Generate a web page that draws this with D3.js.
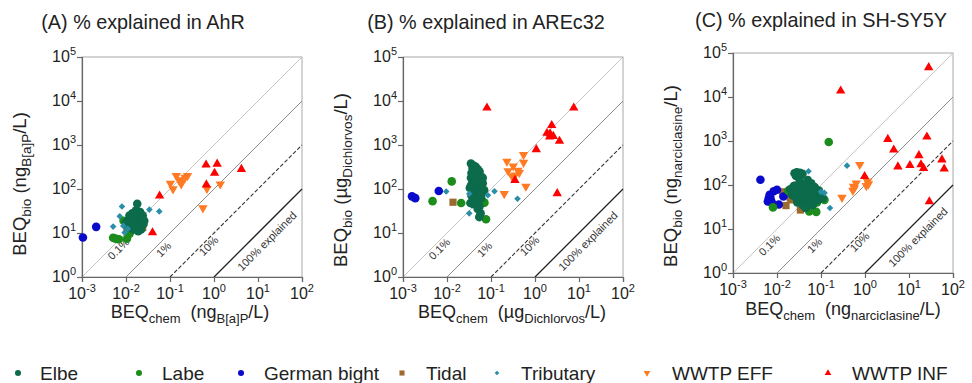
<!DOCTYPE html>
<html>
<head>
<meta charset="utf-8">
<script src="https://cdn.jsdelivr.net/npm/d3@7"></script>
<style>
  body { margin: 0; background: #fff; }
  text { font-family: "Liberation Sans", Arial, sans-serif; fill: #222; white-space: pre; }
</style>
</head>
<body>
<svg id="chart" width="972" height="383"></svg>
<script>
// ---- data ----
const groups = ['Elbe', 'Labe', 'German bight', 'Tidal', 'Tributary', 'WWTP EFF', 'WWTP INF'];
const xTicks = [1e-3, 1e-2, 1e-1, 1e0, 1e1, 1e2];
const yTicks = [1e0, 1e1, 1e2, 1e3, 1e4, 1e5];
const xTickExp = ['-3', '-2', '-1', '0', '1', '2'];
const yTickExp = ['0', '1', '2', '3', '4', '5'];
const percentExplained = [0.1, 1, 10, 100];
const percentLabels = ['0.1%', '1%', '10%', '100% explained'];

const panelTitles = ['(A) % explained in AhR', '(B) % explained in AREc32', '(C) % explained in SH-SY5Y'];
const unitPrefix = ['ng', '\u00b5g', 'ng'];
const unitRef = ['B[a]P', 'Dichlorvos', 'narciclasine'];

// (A) AhR  [BEQchem, BEQbio]
const ahrElbe = [[0.012,16],[0.013,20],[0.014,24],[0.015,18],[0.016,22],[0.017,15],[0.018,26],[0.019,19],[0.02,14],[0.021,23],[0.022,17],[0.013,13],[0.014,28],[0.016,30],[0.018,12],[0.011,19],[0.012,25],[0.015,12],[0.017,33],[0.02,28],[0.023,21],[0.025,16],[0.024,25],[0.011,14],[0.019,11],[0.016,15],[0.014,17],[0.018,46],[0.026,19],[0.021,30],[0.013,22],[0.015,27],[0.01,17],[0.022,12]];
const ahrLabe = [[0.0051,7.8],[0.0056,7.5],[0.0062,7.3],[0.0069,7.2],[0.0088,19],[0.0105,7.4],[0.012,9.5],[0.0126,11]];
const ahrGermanBight = [[0.00105,7.9],[0.0021,13.8]];
const ahrTidal = [[0.0105,12.2],[0.024,13.3]];
const ahrTributary = [[0.0081,40],[0.0072,24],[0.0051,14],[0.0087,14.5],[0.034,34],[0.057,31],[0.0093,10.2],[0.011,12.5]];
const ahrEff = [[0.139,200],[0.22,182],[0.25,200],[0.102,134],[0.117,100],[0.18,129],[0.165,154],[0.19,160],[0.56,37],[0.69,102],[1.39,129]];
const ahrInf = [[0.058,70],[0.04,10.2],[0.66,355],[1.18,370],[1.03,230],[4.2,282],[0.67,125]];

// (B) AREc32
const arElbe = [[0.035,380],[0.04,340],[0.038,300],[0.045,320],[0.042,260],[0.05,280],[0.036,230],[0.048,240],[0.055,250],[0.06,190],[0.065,180],[0.04,200],[0.035,180],[0.045,170],[0.05,160],[0.038,150],[0.042,140],[0.055,145],[0.047,130],[0.035,120],[0.04,115],[0.05,110],[0.058,120],[0.045,100],[0.038,95],[0.052,90],[0.042,85],[0.048,75],[0.036,70],[0.055,70],[0.04,60],[0.05,55],[0.045,50],[0.06,62],[0.034,48],[0.04,45],[0.055,40],[0.05,35],[0.058,28],[0.054,23],[0.033,105],[0.065,135],[0.07,95],[0.062,80]];
const arLabe = [[0.0128,149],[0.0047,53],[0.021,48],[0.071,49],[0.077,20.5]];
const arGermanBight = [[0.0016,68],[0.0019,62],[0.0065,90]];
const arTidal = [[0.0137,50]];
const arTributary = [[0.0096,88],[0.032,28],[0.085,72],[0.12,89],[0.40,60],[0.032,78]];
const arEff = [[0.23,425],[0.32,330],[0.55,600],[0.55,400],[0.245,257],[0.30,195],[0.35,205],[0.41,265],[0.44,235],[0.2,78],[0.62,115]];
const arInf = [[0.081,7000],[7.6,7000],[2.4,2800],[1.87,1870],[2.2,1800],[2.15,1530],[2.6,1580],[3.6,1230],[1.07,790],[0.35,158],[3.2,79]];

// (C) SH-SY5Y
const shElbe = [[0.025,185],[0.028,195],[0.03,175],[0.033,190],[0.027,160],[0.035,165],[0.031,150],[0.038,180],[0.02,80],[0.022,60],[0.024,95],[0.026,70],[0.028,50],[0.03,85],[0.032,65],[0.034,110],[0.035,45],[0.037,75],[0.04,55],[0.042,90],[0.044,40],[0.046,65],[0.048,80],[0.05,50],[0.052,100],[0.055,70],[0.058,38],[0.06,60],[0.063,85],[0.066,48],[0.07,72],[0.075,55],[0.08,65],[0.085,45],[0.09,75],[0.1,58],[0.11,50],[0.038,35],[0.045,30],[0.033,120],[0.05,130],[0.06,110],[0.029,40],[0.04,100],[0.055,88],[0.065,35],[0.072,90],[0.025,55],[0.036,60],[0.043,75],[0.047,52]];
const shLabe = [[0.15,950],[0.0081,31],[0.078,24.5],[0.054,25.2],[0.081,40],[0.12,46],[0.018,74]];
const shGermanBight = [[0.0042,132],[0.0065,50],[0.0068,60],[0.0073,45],[0.0084,72],[0.01,78],[0.0077,39],[0.011,36],[0.014,55],[0.007,55],[0.0062,42]];
const shTidal = [[0.014,66],[0.016,34],[0.034,27],[0.032,93],[0.022,46],[0.0135,70],[0.02,50],[0.028,100]];
const shTributary = [[0.052,205],[0.16,30],[0.12,66],[0.39,275],[0.1,70]];
const shEff = [[0.76,290],[0.30,52],[0.55,93],[0.63,110],[0.53,75],[0.57,85],[1.07,96],[1.14,120],[1.2,105]];
const shInf = [[28,47000],[0.28,13800],[3.3,1100],[4.5,630],[5.6,260],[10.5,280],[16.8,470],[18.7,290],[21.5,240],[25.5,1240],[56,375],[63,232],[29,42],[0.98,157]];

// ---- styling ----
const groupColors = ['#0b6b4b', '#1c8c1c', '#0a0acc', '#9c6a2e', '#2a8fa6', '#ff7a22', '#ff0000'];
const groupShapes = ['circle', 'circle', 'circle', 'square', 'diamond', 'down', 'up'];
const drawOrder = [3, 2, 1, 0, 4, 5, 6];

const panelData = [
  [ahrElbe, ahrLabe, ahrGermanBight, ahrTidal, ahrTributary, ahrEff, ahrInf],
  [arElbe, arLabe, arGermanBight, arTidal, arTributary, arEff, arInf],
  [shElbe, shLabe, shGermanBight, shTidal, shTributary, shEff, shInf]
];

const panels = [
  { left: 82, top: 57, size: 220, titleX: 143, titleY: 29, yLabX: 26, yLabY: 184, xLabX: 190, xLabY: 318 },
  { left: 403, top: 57, size: 220, titleX: 486, titleY: 29, yLabX: 347, yLabY: 180, xLabX: 512, xLabY: 318 },
  { left: 733, top: 53, size: 220, titleX: 821, titleY: 27, yLabX: 677, yLabY: 176, xLabX: 843, xLabY: 315 }
];

// where along each line the label sits (BEQchem) and its perpendicular offset (px)
const labelAt = [0.0054, 0.055, 0.62, 10.2];
const labelOffset = [4.2, 5, 3.8, 8.5];
const lineStyles = [
  { stroke: '#c4c4c4', width: 1, dash: null },
  { stroke: '#8c8c8c', width: 1, dash: null },
  { stroke: '#333', width: 1.1, dash: '4,2' },
  { stroke: '#222', width: 1.3, dash: null }
];

const svg = d3.select('#chart');

function symbolPath(shape, scale) {
  const k = scale || 1;
  if (shape === 'circle') return d3.symbol(d3.symbolCircle, 58 * k)();
  if (shape === 'square') return d3.symbol(d3.symbolSquare, 52 * k)();
  if (shape === 'diamond') return d3.symbol(d3.symbolSquare, 22 * k)();
  return d3.symbol(d3.symbolTriangle, 38 * k)();
}
function symbolRotate(shape) {
  if (shape === 'diamond') return 45;
  if (shape === 'down') return 180;
  return 0;
}

function addSubLabel(g, parts, mainSize, subSize) {
  parts.forEach(function(p, i) {
    const prevSub = i > 0 && parts[i - 1].sub;
    let dy = 0;
    if (p.sub) dy = subSize * 0.4;
    else if (prevSub) dy = -subSize * 0.4;
    g.append('tspan')
      .attr('dy', dy)
      .style('font-size', (p.sub ? subSize : mainSize) + 'px')
      .text(p.t);
  });
}

panels.forEach(function(p, pi) {
  const x = d3.scaleLog().domain([1e-3, 1e2]).range([p.left, p.left + p.size]);
  const y = d3.scaleLog().domain([1e0, 1e5]).range([p.top + p.size, p.top]);
  const g = svg.append('g');

  // frame (top/right)
  g.append('rect')
    .attr('x', p.left).attr('y', p.top)
    .attr('width', p.size).attr('height', p.size)
    .attr('fill', 'none').attr('stroke', '#a8a8a8').attr('stroke-width', 1);

  // percent-explained lines
  percentExplained.forEach(function(pct, li) {
    const factor = 100 / pct;
    const x0 = 1 / factor;
    const st = lineStyles[li];
    g.append('line')
      .attr('x1', x(x0)).attr('y1', y(1))
      .attr('x2', x(1e2)).attr('y2', y(1e2 * factor))
      .attr('stroke', st.stroke)
      .attr('stroke-width', st.width)
      .attr('stroke-dasharray', st.dash);
    const lx = x(labelAt[li]) + labelOffset[li];
    const ly = y(labelAt[li] * factor) + labelOffset[li];
    g.append('text')
      .attr('transform', 'translate(' + lx + ',' + ly + ') rotate(-45)')
      .attr('text-anchor', 'middle')
      .attr('dy', '0.35em')
      .style('font-size', '11px')
      .style('fill', '#333')
      .text(percentLabels[li]);
  });

  // axes
  const xAxis = g.append('g')
    .attr('transform', 'translate(0,' + (p.top + p.size) + ')')
    .call(d3.axisBottom(x).tickValues(xTicks).tickSize(5).tickFormat(''));
  const yAxis = g.append('g')
    .attr('transform', 'translate(' + p.left + ',0)')
    .call(d3.axisLeft(y).tickValues(yTicks).tickSize(5).tickFormat(''));
  [xAxis, yAxis].forEach(function(a) {
    a.selectAll('.domain').attr('stroke', '#666').attr('stroke-width', 1.2);
    a.selectAll('.tick line').attr('stroke', '#666').attr('stroke-width', 1.2);
  });

  // tick labels with exponents
  xTicks.forEach(function(v, i) {
    const t = g.append('text')
      .attr('x', x(v)).attr('y', p.top + p.size + 22)
      .attr('text-anchor', 'middle')
      .style('font-size', '16px');
    t.append('tspan').text('10');
    t.append('tspan').attr('dy', -7).style('font-size', '11px').text(xTickExp[i]);
  });
  yTicks.forEach(function(v, i) {
    const t = g.append('text')
      .attr('x', p.left - 6).attr('y', y(v) + 5)
      .attr('text-anchor', 'end')
      .style('font-size', '16px');
    t.append('tspan').text('10');
    t.append('tspan').attr('dy', -7).style('font-size', '11px').text(yTickExp[i]);
  });

  // title
  g.append('text')
    .attr('x', p.titleX).attr('y', p.titleY)
    .attr('text-anchor', 'middle')
    .style('font-size', '19.8px')
    .text(panelTitles[pi]);

  // axis labels
  const yl = g.append('text')
    .attr('transform', 'translate(' + p.yLabX + ',' + p.yLabY + ') rotate(-90)')
    .attr('text-anchor', 'middle');
  addSubLabel(yl, [{ t: 'BEQ' }, { t: 'bio', sub: true }, { t: ' (' + unitPrefix[pi] }, { t: unitRef[pi], sub: true }, { t: '/L)' }], 18.5, 13.5);

  const xl = g.append('text')
    .attr('x', p.xLabX).attr('y', p.xLabY)
    .attr('text-anchor', 'middle');
  addSubLabel(xl, [{ t: 'BEQ' }, { t: 'chem', sub: true }, { t: '  (' + unitPrefix[pi] }, { t: unitRef[pi], sub: true }, { t: '/L)' }], 18, 13);

  // points
  drawOrder.forEach(function(gi) {
    const shape = groupShapes[gi];
    g.append('g').selectAll('path')
      .data(panelData[pi][gi])
      .enter()
      .append('path')
        .attr('d', symbolPath(shape))
        .attr('transform', function(d) {
          return 'translate(' + x(d[0]) + ',' + y(d[1]) + ') rotate(' + symbolRotate(shape) + ')';
        })
        .attr('fill', groupColors[gi]);
  });
});

// legend
const legendTextX = [40, 162, 264, 426, 521, 672, 852];
const legendMarkX = [18, 139, 241, 402, 497, 647, 828];
const legendY = 373;
const legend = svg.append('g');
groups.forEach(function(name, i) {
  const shape = groupShapes[i];
  legend.append('path')
    .attr('d', symbolPath(shape, 0.5))
    .attr('transform', 'translate(' + legendMarkX[i] + ',' + legendY + ') rotate(' + symbolRotate(shape) + ')')
    .attr('fill', groupColors[i]);
  legend.append('text')
    .attr('x', legendTextX[i]).attr('y', legendY + 7)
    .style('font-size', '19px')
    .text(name);
});
</script>
</body>
</html>
